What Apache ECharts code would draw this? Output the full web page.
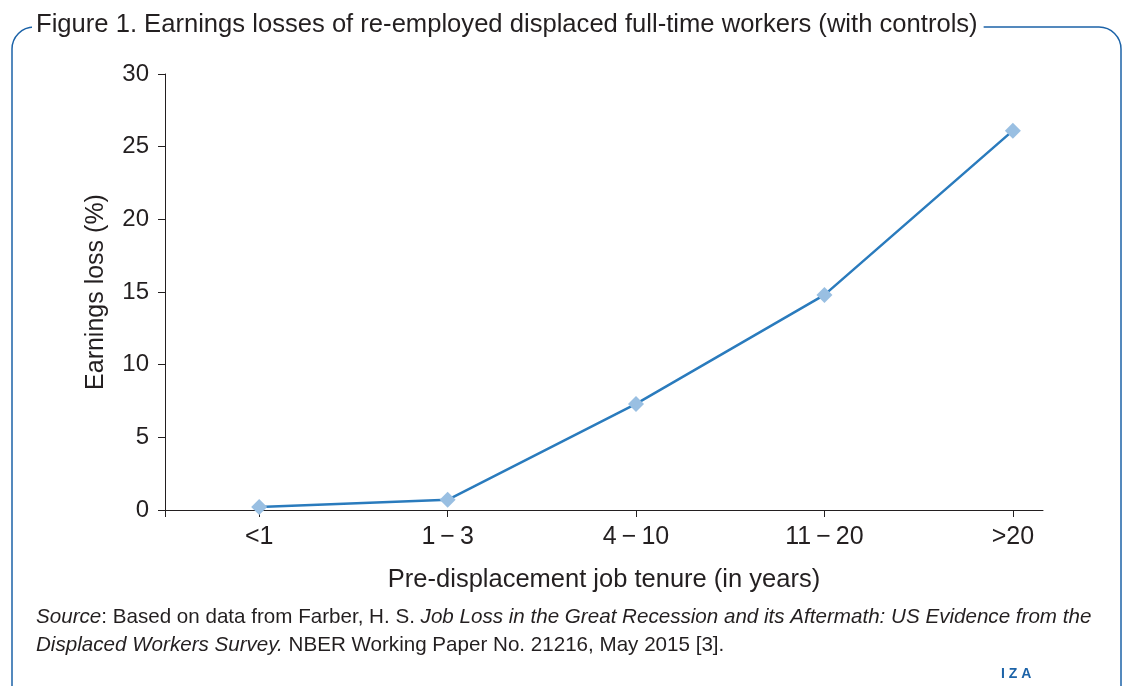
<!DOCTYPE html>
<html>
<head>
<meta charset="utf-8">
<script src="https://cdn.jsdelivr.net/npm/echarts@6/dist/echarts.min.js"></script>
<style>
  html, body { margin: 0; padding: 0; background: #fff; }
  #chart { width: 1124px; height: 686px; }
</style>
</head>
<body>
<div id="chart"></div>
<script>
// tenure groups and earnings loss (%)
const categories = ["<1", "1\u2009\u2212\u20093", "4\u2009\u2212\u200910", "11\u2009\u2212\u200920", ">20"];
const lossValues = [0.2, 0.7, 7.3, 14.8, 26.1];
const yTicks = [0, 5, 10, 15, 20, 25, 30];

const SANS = '"Liberation Sans", Arial, sans-serif';
const FRAME = "#1c63a8";
const INK = "#231f20";

const chart = echarts.init(document.getElementById("chart"));

let option = {
  animation: false,
  grid: {
    left: 165,
    right: 81,
    top: 74,
    bottom: 176,
  },
  xAxis: {
    type: "value",
    min: -0.5,
    max: 4.16,
    name: "Pre-displacement job tenure (in years)",
    nameLocation: "middle",
    nameGap: 57,
    nameTextStyle: {
      fontFamily: SANS,
      fontSize: 25.5,
      color: INK,
    },
    axisLine: {
      onZero: false,
      lineStyle: { color: INK, width: 1 },
    },
    axisTick: {
      show: true,
      length: 7,
      customValues: [-0.5, 0, 1, 2, 3, 4],
      lineStyle: { color: INK },
    },
    axisLabel: {
      customValues: [0, 1, 2, 3, 4],
      margin: 15,
      fontFamily: SANS,
      fontSize: 25,
      color: INK,
      formatter: (v) => categories[Math.round(v)],
    },
    splitLine: { show: false },
  },
  yAxis: {
    type: "value",
    min: 0,
    max: 30,
    interval: 5,
    name: "Earnings loss (%)",
    nameLocation: "middle",
    nameGap: 56,
    nameTextStyle: {
      fontFamily: SANS,
      fontSize: 25,
      color: INK,
    },
    axisLine: {
      show: true,
      onZero: false,
      lineStyle: { color: INK, width: 1 },
    },
    axisTick: {
      show: true,
      length: 7,
      lineStyle: { color: INK },
    },
    axisLabel: {
      margin: 16,
      fontFamily: SANS,
      fontSize: 24,
      color: INK,
      formatter: (v) => (yTicks.indexOf(v) >= 0 ? String(v) : ""),
    },
    splitLine: { show: false },
  },
  series: [
    {
      type: "line",
      data: lossValues.map((v, i) => [i, v]),
      symbol: "diamond",
      symbolSize: 16,
      lineStyle: { color: "#2a7bbd", width: 2.5 },
      itemStyle: { color: "#99bfe2" },
      z: 3,
    },
  ],
  graphic: [
    {
      type: "rect",
      z: -1,
      shape: { x: 12, y: 27, width: 1109, height: 700, r: 22 },
      style: { fill: "none", stroke: FRAME, lineWidth: 1.5 },
    },
    {
      type: "text",
      left: 32,
      top: 12,
      style: {
        text: "Figure 1. Earnings losses of re-employed displaced full-time workers (with controls)",
        fontFamily: SANS,
        fontSize: 25.6,
        fill: INK,
        backgroundColor: "#fff",
        padding: [0, 6, 0, 4],
      },
    },
    {
      type: "text",
      left: 36,
      top: 607,
      style: {
        text:
          "{i|Source}{n|: Based on data from Farber, H. S. }{i|Job Loss in the Great Recession and its Aftermath: US Evidence from the}\n" +
          "{i|Displaced Workers Survey.}{n| NBER Working Paper No. 21216, May 2015 [3].}",
        rich: {
          i: { fontFamily: SANS, fontStyle: "italic", fontSize: 20.6, fill: INK, lineHeight: 28 },
          n: { fontFamily: SANS, fontSize: 20.6, fill: INK, lineHeight: 28 },
        },
      },
    },
    {
      type: "text",
      left: 1001,
      top: 667,
      style: {
        text: "I Z A",
        fontFamily: SANS,
        fontWeight: "bold",
        fontSize: 14,
        fill: FRAME,
      },
    },
  ],
};

chart.setOption(option);
</script>
</body>
</html>
